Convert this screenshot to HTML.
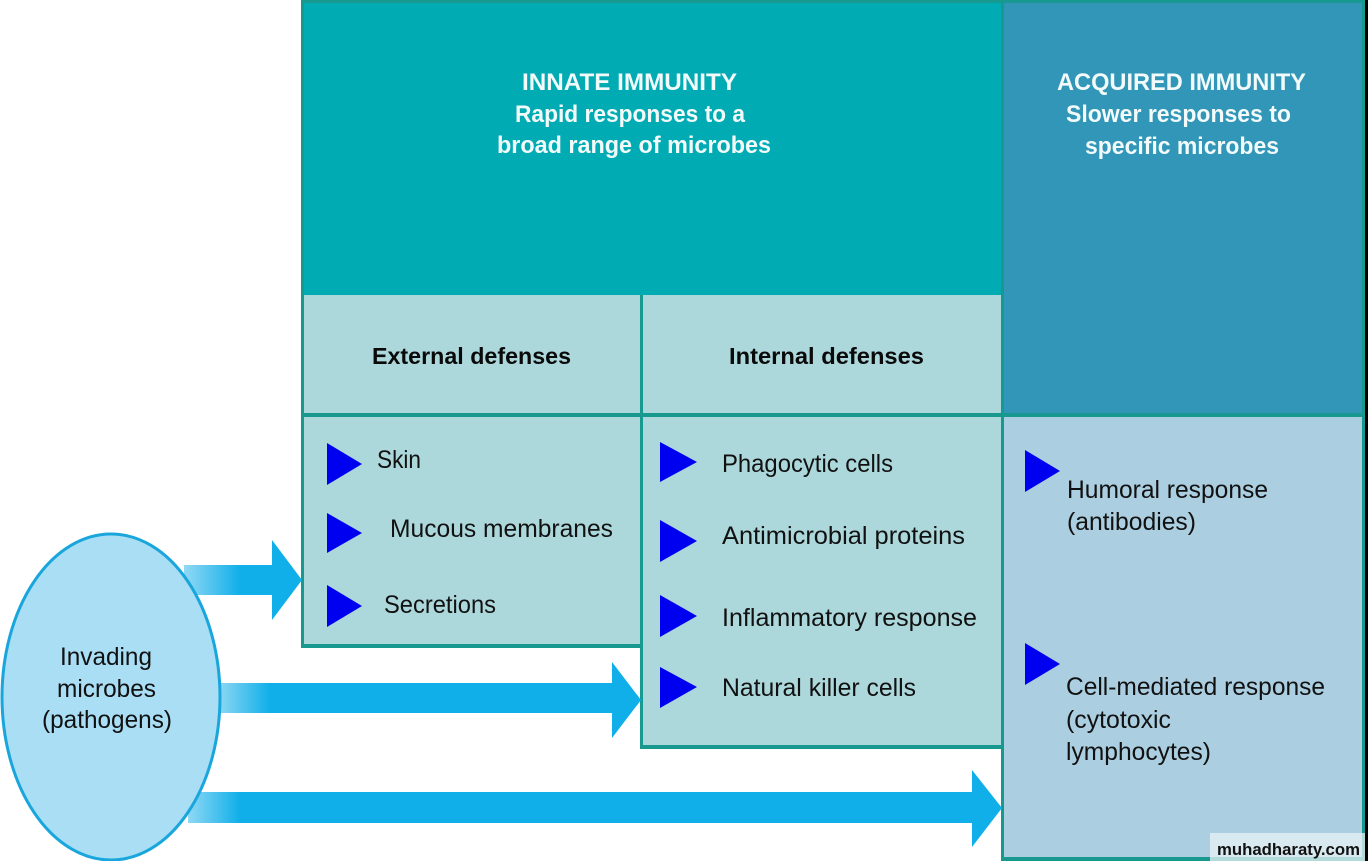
<!DOCTYPE html>
<html>
<head>
<meta charset="utf-8">
<style>
html,body{margin:0;padding:0;background:#fff;}
svg{display:block;}
.t{font-family:"Liberation Sans",Arial,sans-serif;font-size:25px;fill:#111;}
.h{font-family:"Liberation Sans",Arial,sans-serif;font-size:23px;font-weight:bold;fill:#0a0a0a;}
.w{font-family:"Liberation Sans",Arial,sans-serif;font-size:24px;font-weight:bold;fill:#f2fafa;}
</style>
</head>
<body>
<svg width="1368" height="861" viewBox="0 0 1368 861" xmlns="http://www.w3.org/2000/svg">
<defs>
<linearGradient id="g1" gradientUnits="userSpaceOnUse" x1="185" y1="0" x2="240" y2="0">
<stop offset="0" stop-color="#8fd8f4"/><stop offset="1" stop-color="#10afe9"/>
</linearGradient>
<linearGradient id="g2" gradientUnits="userSpaceOnUse" x1="218" y1="0" x2="270" y2="0">
<stop offset="0" stop-color="#8fd8f4"/><stop offset="1" stop-color="#10afe9"/>
</linearGradient>
<linearGradient id="g3" gradientUnits="userSpaceOnUse" x1="188" y1="0" x2="240" y2="0">
<stop offset="0" stop-color="#8fd8f4"/><stop offset="1" stop-color="#10afe9"/>
</linearGradient>
</defs>

<!-- border backgrounds -->
<rect x="301" y="0" width="343" height="648" fill="#18998f"/>
<rect x="640" y="0" width="364" height="749" fill="#18998f"/>
<rect x="1001" y="0" width="364" height="861" fill="#18998f"/>

<!-- fills -->
<rect x="304" y="3" width="697" height="292" fill="#00abb3"/>
<rect x="304" y="295" width="336" height="118" fill="#acd8dc"/>
<rect x="643" y="295" width="358" height="118" fill="#acd8dc"/>
<rect x="304" y="417" width="336" height="227" fill="#acd8dc"/>
<rect x="643" y="417" width="358" height="328" fill="#acd8dc"/>
<rect x="1004" y="3" width="358" height="410" fill="#3196b8"/>
<rect x="1004" y="417" width="358" height="440" fill="#abcee0"/>
<rect x="1365" y="0" width="3" height="861" fill="#000"/>

<!-- header text -->
<text class="w" x="522" y="90" textLength="215" lengthAdjust="spacingAndGlyphs">INNATE IMMUNITY</text>
<text class="w" x="515" y="122" textLength="230" lengthAdjust="spacingAndGlyphs">Rapid responses to a</text>
<text class="w" x="497" y="153" textLength="274" lengthAdjust="spacingAndGlyphs">broad range of microbes</text>

<text class="w" x="1057" y="90" textLength="249" lengthAdjust="spacingAndGlyphs">ACQUIRED IMMUNITY</text>
<text class="w" x="1066" y="122" textLength="225" lengthAdjust="spacingAndGlyphs">Slower responses to</text>
<text class="w" x="1085" y="154" textLength="194" lengthAdjust="spacingAndGlyphs">specific microbes</text>

<text class="h" x="372" y="364" textLength="199" lengthAdjust="spacingAndGlyphs">External defenses</text>
<text class="h" x="729" y="364" textLength="195" lengthAdjust="spacingAndGlyphs">Internal defenses</text>

<!-- bullets external -->
<polygon points="327,443 362,464 327,485" fill="#0000f0"/>
<polygon points="327,513 362,533 327,553" fill="#0000f0"/>
<polygon points="327,585 362,606 327,627" fill="#0000f0"/>
<text class="t" x="377" y="468" textLength="44" lengthAdjust="spacingAndGlyphs">Skin</text>
<text class="t" x="390" y="537" textLength="223" lengthAdjust="spacingAndGlyphs">Mucous membranes</text>
<text class="t" x="384" y="613" textLength="112" lengthAdjust="spacingAndGlyphs">Secretions</text>

<!-- bullets internal -->
<polygon points="660,442 697,462 660,482" fill="#0000f0"/>
<polygon points="660,520 697,541 660,562" fill="#0000f0"/>
<polygon points="660,595 697,616 660,637" fill="#0000f0"/>
<polygon points="660,667 697,687 660,708" fill="#0000f0"/>
<text class="t" x="722" y="472" textLength="171" lengthAdjust="spacingAndGlyphs">Phagocytic cells</text>
<text class="t" x="722" y="544" textLength="243" lengthAdjust="spacingAndGlyphs">Antimicrobial proteins</text>
<text class="t" x="722" y="626" textLength="255" lengthAdjust="spacingAndGlyphs">Inflammatory response</text>
<text class="t" x="722" y="696" textLength="194" lengthAdjust="spacingAndGlyphs">Natural killer cells</text>

<!-- bullets acquired -->
<polygon points="1025,450 1060,471 1025,492" fill="#0000f0"/>
<polygon points="1025,643 1060,664 1025,685" fill="#0000f0"/>
<text class="t" x="1067" y="498" textLength="201" lengthAdjust="spacingAndGlyphs">Humoral response</text>
<text class="t" x="1067" y="530" textLength="129" lengthAdjust="spacingAndGlyphs">(antibodies)</text>
<text class="t" x="1066" y="695" textLength="259" lengthAdjust="spacingAndGlyphs">Cell-mediated response</text>
<text class="t" x="1066" y="728" textLength="105" lengthAdjust="spacingAndGlyphs">(cytotoxic</text>
<text class="t" x="1066" y="760" textLength="145" lengthAdjust="spacingAndGlyphs">lymphocytes)</text>

<!-- arrows -->
<rect x="184" y="565" width="89" height="30" fill="url(#g1)"/>
<polygon points="272,540 302,580 272,620" fill="#10afe9"/>
<rect x="216" y="683" width="397" height="30" fill="url(#g2)"/>
<polygon points="612,662 641,700 612,738" fill="#10afe9"/>
<rect x="188" y="792" width="785" height="31" fill="url(#g3)"/>
<polygon points="972,770 1002,808 972,847" fill="#10afe9"/>

<!-- ellipse -->
<ellipse cx="111" cy="697" rx="109" ry="163" fill="#a9def5" stroke="#19a6dc" stroke-width="3"/>
<text class="t" x="60" y="665" textLength="92" lengthAdjust="spacingAndGlyphs">Invading</text>
<text class="t" x="57" y="697" textLength="99" lengthAdjust="spacingAndGlyphs">microbes</text>
<text class="t" x="42" y="728" textLength="130" lengthAdjust="spacingAndGlyphs">(pathogens)</text>

<!-- watermark -->
<rect x="1210" y="833" width="155" height="28" fill="#e8f1f5" fill-opacity="0.75"/>
<text x="1217" y="855" font-family="Liberation Sans, Arial, sans-serif" font-size="17" font-weight="bold" fill="#111" textLength="143" lengthAdjust="spacingAndGlyphs">muhadharaty.com</text>
</svg>
</body>
</html>
